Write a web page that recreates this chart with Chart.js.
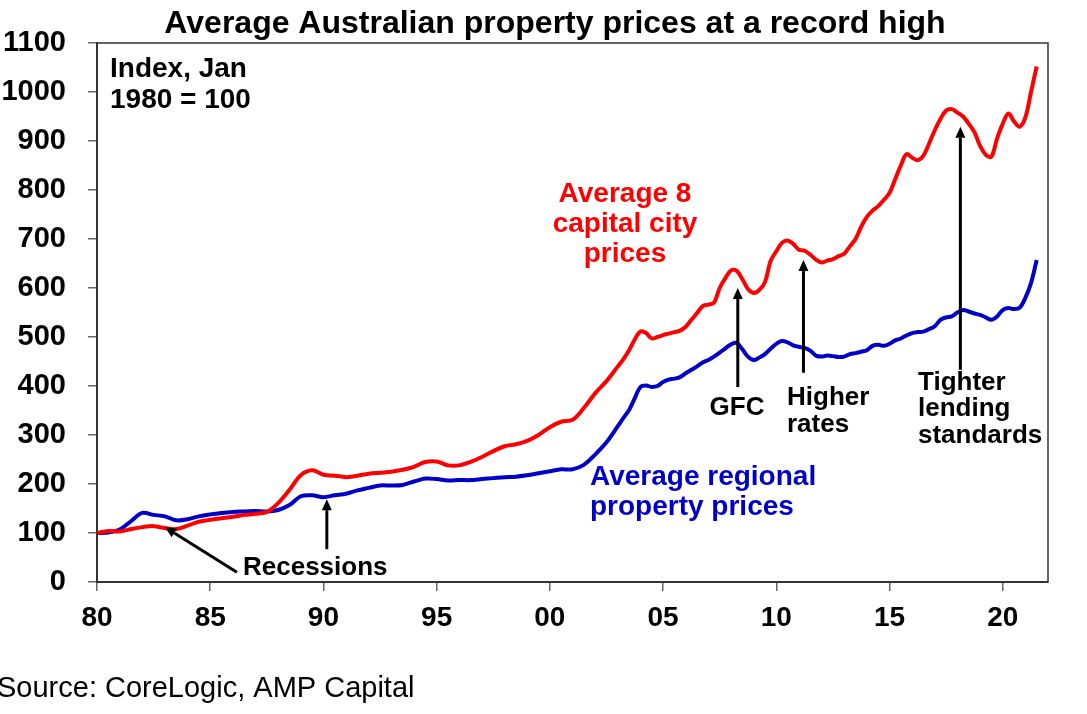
<!DOCTYPE html>
<html>
<head>
<meta charset="utf-8">
<title>Average Australian property prices at a record high</title>
<script src="https://cdn.jsdelivr.net/npm/chart.js@4.4.1/dist/chart.umd.min.js"></script>
<style>
  html, body { margin: 0; padding: 0; background: #fff; }
  #wrap { width: 1087px; height: 714px; position: relative; }
</style>
</head>
<body>
<div id="wrap"><canvas id="graph"></canvas></div>
<script>
// ==========================================
// DATA - index, Jan 1980 = 100
// ==========================================

// half-yearly to 2002.5, then quarterly
const years = [
  1980, 1980.5, 1981, 1981.5, 1982, 1982.5, 1983, 1983.5, 1984, 1984.5,
  1985, 1985.5, 1986, 1986.5, 1987, 1987.5, 1988, 1988.5, 1989, 1989.5,
  1990, 1990.5, 1991, 1991.5, 1992, 1992.5, 1993, 1993.5, 1994, 1994.5,
  1995, 1995.5, 1996, 1996.5, 1997, 1997.5, 1998, 1998.5, 1999, 1999.5,
  2000, 2000.5, 2001, 2001.5, 2002, 2002.5,
  2003, 2003.25, 2003.5, 2003.75, 2004, 2004.25, 2004.5, 2004.75,
  2005, 2005.25, 2005.5, 2005.75, 2006, 2006.25, 2006.5, 2006.75,
  2007, 2007.25, 2007.5, 2007.75, 2008, 2008.25, 2008.5, 2008.75,
  2009, 2009.25, 2009.5, 2009.75, 2010, 2010.25, 2010.5, 2010.75,
  2011, 2011.25, 2011.5, 2011.75, 2012, 2012.25, 2012.5, 2012.75,
  2013, 2013.25, 2013.5, 2013.75, 2014, 2014.25, 2014.5, 2014.75,
  2015, 2015.25, 2015.5, 2015.75, 2016, 2016.25, 2016.5, 2016.75,
  2017, 2017.25, 2017.5, 2017.75, 2018, 2018.25, 2018.5, 2018.75,
  2019, 2019.25, 2019.5, 2019.75, 2020, 2020.25, 2020.5, 2020.75,
  2021, 2021.25, 2021.5
];

const capitalCity = [
  100, 104, 103, 108, 112, 114, 110, 108, 115, 123,
  127, 130, 133, 137, 139, 143, 161, 188, 218, 228,
  219, 217, 214, 217, 221, 223, 225, 229, 235, 245,
  246, 238, 238, 245, 255, 267, 277, 281, 288, 300,
  316, 327, 331, 355, 385, 410,
  440, 455, 473, 495, 511, 508, 497, 500,
  504, 507, 510, 513, 521, 535, 549, 563,
  566, 570, 600, 620, 636, 635, 618, 598,
  590, 596, 612, 655, 675, 692, 697, 690,
  678, 676, 668, 658, 652, 656, 659, 665,
  670, 685, 700, 725, 745, 758, 767, 780,
  794, 822, 850, 873, 866, 861, 870, 895,
  922, 945, 962, 965, 958, 950, 935, 918,
  890, 872, 868, 905, 935, 956, 940, 929,
  948, 1000, 1052
];

const regional = [
  100, 101, 107, 124, 141, 137, 134, 126, 128, 134,
  138, 141, 143, 144, 145, 144, 147, 157, 175, 177,
  173, 177, 180, 187, 192, 197, 197, 198, 205, 211,
  210, 207, 208, 208, 210, 212, 214, 215, 218, 222,
  226, 230, 230, 239, 260, 285,
  318, 335, 351, 375, 398, 401, 398, 400,
  408, 413, 415, 418, 426, 433, 440, 448,
  453, 460, 468, 477, 485, 488, 475, 460,
  453, 458, 465, 476, 486, 492, 489, 483,
  480, 478, 472, 462, 460, 462, 461, 459,
  460, 465, 467, 470, 473, 482, 484, 482,
  486, 493, 497, 503, 508, 510, 511, 516,
  522, 535, 540, 542, 550, 555, 552, 548,
  545, 540, 535, 542, 555, 559, 557, 560,
  580, 610, 657
];

const xTickValues = [1980, 1985, 1990, 1995, 2000, 2005, 2010, 2015, 2020];
const xTickLabels = ["80", "85", "90", "95", "00", "05", "10", "15", "20"];

// ==========================================
// TEXTS AND ARROWS
// ==========================================

const FONT = "'Liberation Sans', Arial, sans-serif";
const RED = "#ff0000";
const BLUE = "#0000c8";

// arrows in data units: [year tail, value tail, year tip, value tip]
const arrows = [
  [1986.18, 20, 1983.0, 112],
  [1990.15, 67, 1990.15, 169],
  [2008.3, 398, 2008.3, 600],
  [2011.2, 427, 2011.2, 657],
  [2018.13, 433, 2018.13, 929]
];

// texts in pixels: text, x, baseline, align, size, weight, colour
const labels = [
  ["Average Australian property prices at a record high", 555, 33, "center", 32, "bold", "#000"],
  ["Index, Jan", 110, 77, "left", 28, "bold", "#000"],
  ["1980 = 100", 110, 108, "left", 28, "bold", "#000"],
  ["Average 8", 625, 202, "center", 28, "bold", RED],
  ["capital city", 625, 232, "center", 28, "bold", RED],
  ["prices", 625, 262, "center", 28, "bold", RED],
  ["Average regional", 590, 485, "left", 28, "bold", BLUE],
  ["property prices", 590, 515, "left", 28, "bold", BLUE],
  ["Recessions", 243, 575, "left", 26, "bold", "#000"],
  ["GFC", 737, 415, "center", 26, "bold", "#000"],
  ["Higher", 787, 405, "left", 26, "bold", "#000"],
  ["rates", 787, 432, "left", 26, "bold", "#000"],
  ["Tighter", 918, 390, "left", 26, "bold", "#000"],
  ["lending", 918, 416, "left", 26, "bold", "#000"],
  ["standards", 918, 443, "left", 26, "bold", "#000"],
  ["Source: CoreLogic, AMP Capital", -3, 697, "left", 29, "normal", "#000"]
];

const decor = {
  id: "decor",
  afterDraw(chart) {
    const ctx = chart.ctx;
    const a = chart.chartArea;
    const sx = chart.scales.x;
    const sy = chart.scales.y;

    ctx.save();

    // top and right frame
    ctx.strokeStyle = "#333";
    ctx.lineWidth = 1.5;
    ctx.beginPath();
    ctx.moveTo(a.left, a.top);
    ctx.lineTo(a.right, a.top);
    ctx.lineTo(a.right, a.bottom);
    ctx.stroke();

    // arrows
    ctx.strokeStyle = "#000";
    ctx.fillStyle = "#000";
    ctx.lineWidth = 3;
    for (const [x0, y0, x1, y1] of arrows) {
      const px0 = sx.getPixelForValue(x0), py0 = sy.getPixelForValue(y0);
      const px1 = sx.getPixelForValue(x1), py1 = sy.getPixelForValue(y1);
      const ang = Math.atan2(py1 - py0, px1 - px0);
      const len = 11, half = 5;
      const bx = px1 - len * Math.cos(ang), by = py1 - len * Math.sin(ang);
      ctx.beginPath();
      ctx.moveTo(px0, py0);
      ctx.lineTo(bx, by);
      ctx.stroke();
      ctx.beginPath();
      ctx.moveTo(px1, py1);
      ctx.lineTo(bx + half * Math.sin(ang), by - half * Math.cos(ang));
      ctx.lineTo(bx - half * Math.sin(ang), by + half * Math.cos(ang));
      ctx.closePath();
      ctx.fill();
    }

    // texts
    ctx.textBaseline = "alphabetic";
    for (const [t, x, y, align, size, weight, col] of labels) {
      ctx.font = weight + " " + size + "px " + FONT;
      ctx.textAlign = align;
      ctx.fillStyle = col;
      ctx.fillText(t, x, y);
    }

    ctx.restore();
  }
};

// ==========================================
// CHART
// ==========================================

const toPoints = (vals) => vals.map((v, i) => ({ x: years[i], y: v }));

new Chart(document.getElementById("graph"), {

  type: "line",

  data: {
    datasets: [
      {
        label: "Average 8 capital city prices",
        data: toPoints(capitalCity),
        borderColor: RED,
        borderWidth: 4,
        pointRadius: 0,
        tension: 0.35
      },
      {
        label: "Average regional property prices",
        data: toPoints(regional),
        borderColor: BLUE,
        borderWidth: 4,
        pointRadius: 0,
        tension: 0.35
      }
    ]
  },

  options: {
    responsive: true,
    maintainAspectRatio: false,
    animation: false,
    layout: { padding: { left: 0, top: 43, right: 39, bottom: 0 } },
    plugins: {
      legend: { display: false },
      title: { display: false },
      tooltip: { enabled: false }
    },
    scales: {
      x: {
        type: "linear",
        min: 1980,
        max: 2022,
        afterBuildTicks: (s) => { s.ticks = xTickValues.map(v => ({ value: v })); },
        afterFit: (s) => { s.height = 132; },
        grid: { drawOnChartArea: false, tickLength: 9, color: "#666", lineWidth: 1.5 },
        border: { color: "#333", width: 2 },
        ticks: {
          color: "#000",
          padding: 10,
          maxRotation: 0,
          font: { family: FONT, size: 28, weight: "bold" },
          callback: (v, i) => xTickLabels[i]
        }
      },
      y: {
        min: 0,
        max: 1100,
        afterFit: (s) => { s.width = 97; },
        grid: { drawOnChartArea: false, tickLength: 9, color: "#666", lineWidth: 1.5 },
        border: { color: "#333", width: 2 },
        ticks: {
          stepSize: 100,
          color: "#000",
          padding: 22,
          font: { family: FONT, size: 29, weight: "bold" },
          callback: (v) => String(v)
        }
      }
    }
  },

  plugins: [decor]

});
</script>
</body>
</html>
